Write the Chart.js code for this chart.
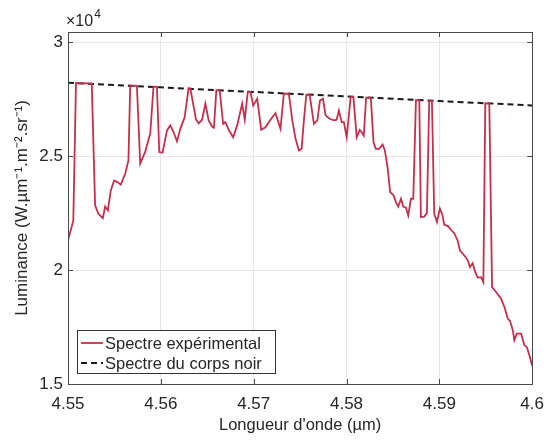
<!DOCTYPE html>
<html>
<head>
<meta charset="utf-8">
<script src="https://cdn.jsdelivr.net/npm/chart.js@4.4.1/dist/chart.umd.min.js"></script>
<style>
  html, body { margin: 0; padding: 0; background: #fff; }
  #wrap { width: 544px; height: 441px; }
</style>
</head>
<body>
<div id="wrap"><canvas id="chart" width="544" height="441"></canvas></div>
<script>
// Spectre expérimental (longueur d'onde en µm, luminance)
const wavelength = [
  4.55000, 4.55057, 4.55086, 4.55256, 4.55292, 4.55327, 4.55375, 4.55400, 4.55429, 4.55461,
  4.55497, 4.55532, 4.55569, 4.55616, 4.55651, 4.55670, 4.55742, 4.55778, 4.55832, 4.55886,
  4.55921, 4.55958, 4.55983, 4.56019, 4.56066, 4.56102, 4.56138, 4.56174, 4.56210, 4.56256,
  4.56299, 4.56318, 4.56379, 4.56408, 4.56444, 4.56480, 4.56515, 4.56552, 4.56572, 4.56598,
  4.56634, 4.56671, 4.56695, 4.56731, 4.56779, 4.56822, 4.56876, 4.56904, 4.56937, 4.56965,
  4.56995, 4.57038, 4.57081, 4.57127, 4.57181, 4.57235, 4.57289, 4.57325, 4.57379, 4.57416,
  4.57451, 4.57487, 4.57516, 4.57541, 4.57567, 4.57603, 4.57649, 4.57686, 4.57714, 4.57746,
  4.57775, 4.57818, 4.57865, 4.57894, 4.57918, 4.57948, 4.57972, 4.58002, 4.58045, 4.58074,
  4.58110, 4.58143, 4.58164, 4.58186, 4.58211, 4.58262, 4.58291, 4.58316, 4.58352, 4.58389,
  4.58413, 4.58442, 4.58470, 4.58507, 4.58532, 4.58557, 4.58587, 4.58611, 4.58640, 4.58665,
  4.58694, 4.58719, 4.58748, 4.58784, 4.58801, 4.58837, 4.58866, 4.58891, 4.58920, 4.58945,
  4.58974, 4.59006, 4.59035, 4.59052, 4.59096, 4.59125, 4.59160, 4.59197, 4.59222, 4.59269,
  4.59306, 4.59330, 4.59359, 4.59387, 4.59413, 4.59449, 4.59474, 4.59495, 4.59538, 4.59568,
  4.59611, 4.59665, 4.59701, 4.59737, 4.59762, 4.59791, 4.59808, 4.59834, 4.59881, 4.59916,
  4.59942, 4.59970, 4.60000
];
const luminance = [
  21300, 22170, 28210, 28180, 22840, 22470, 22280, 22790, 22620, 23500,
  23930, 23860, 23750, 24230, 24810, 28100, 28090, 24670, 25200, 26000,
  28050, 28040, 25180, 25150, 26130, 26350, 26050, 25650, 26200, 26700,
  27980, 27970, 26600, 26440, 26600, 27310, 26570, 26300, 26250, 27900,
  27890, 26420, 26490, 26160, 25830, 26350, 27300, 26600, 27830, 27820,
  27220, 27520, 26160, 26270, 26600, 26890, 26200, 27750, 27740, 26570,
  25760, 25250, 25320, 26570, 27700, 27690, 26420, 26570, 27440, 27520,
  26790, 26640, 26570, 26600, 27000, 26490, 26490, 25830, 27610, 27600,
  25830, 26150, 26050, 25900, 27570, 27560, 25610, 25320, 25320, 25510,
  25250, 24520, 23420, 23280, 22980, 22790, 23130, 22790, 22740, 22400,
  23130, 23130, 27460, 27450, 22330, 22350, 22500, 27430, 27420, 22470,
  22110, 22700, 22400, 22000, 21920, 21770, 21620, 21300, 20860, 20640,
  20430, 20130, 20300, 19910, 19670, 19690, 19470, 27320, 27310, 19250,
  19040, 18740, 18380, 17870, 17760, 17360, 16920, 17210, 17210, 16700,
  16620, 16260, 15800
];

// Spectre du corps noir
const bbWavelength = [4.55, 4.56, 4.57, 4.58, 4.59, 4.60];
const bbLuminance = [28220, 28020, 27820, 27620, 27420, 27225];

const xTicks = [4.55, 4.56, 4.57, 4.58, 4.59, 4.60];
const xTickLabels = ['4.55', '4.56', '4.57', '4.58', '4.59', '4.6'];
const yTicks = [15000, 20000, 25000, 30000];
const yTickLabels = ['1.5', '2', '2.5', '3'];

const FONT = "'Liberation Sans', Arial, Helvetica, sans-serif";
const TEXT = '#262626';
const AXIS = '#4a4a4a';
const RED = '#c4304c';

// box, inner ticks, exponent label and legend (MATLAB look)
const matlabFrame = {
    id: 'matlabFrame',
    afterDraw(chart) {
        const ctx = chart.ctx;
        const a = chart.chartArea;
        const xs = chart.scales.x, ys = chart.scales.y;
        ctx.save();
        ctx.strokeStyle = AXIS;
        ctx.lineWidth = 1;
        ctx.strokeRect(Math.round(a.left) + 0.5, Math.round(a.top) + 0.5,
            Math.round(a.right - a.left), Math.round(a.bottom - a.top));
        ctx.beginPath();
        xTicks.forEach(v => {
            const px = Math.round(xs.getPixelForValue(v)) + 0.5;
            ctx.moveTo(px, a.bottom); ctx.lineTo(px, a.bottom - 5);
            ctx.moveTo(px, a.top); ctx.lineTo(px, a.top + 5);
        });
        yTicks.forEach(v => {
            const py = Math.round(ys.getPixelForValue(v)) + 0.5;
            ctx.moveTo(a.left, py); ctx.lineTo(a.left + 5, py);
            ctx.moveTo(a.right, py); ctx.lineTo(a.right - 5, py);
        });
        ctx.stroke();

        // x10^4
        ctx.fillStyle = TEXT;
        ctx.textBaseline = 'alphabetic';
        ctx.textAlign = 'left';
        ctx.font = '16px ' + FONT;
        ctx.fillText('\u00d710', a.left - 2, a.top - 6);
        const w = ctx.measureText('\u00d710').width;
        ctx.font = '12px ' + FONT;
        ctx.fillText('4', a.left - 2 + w + 1, a.top - 14);

        // legend
        const lx = 77, ly = 330, lw = 198, lh = 43;
        ctx.fillStyle = '#fff';
        ctx.fillRect(lx, ly, lw, lh);
        ctx.strokeStyle = '#333';
        ctx.strokeRect(lx + 0.5, ly + 0.5, lw, lh);
        const rows = chart.data.datasets;
        rows.forEach((ds, i) => {
            const cy = ly + 13 + i * 20;
            ctx.beginPath();
            ctx.strokeStyle = ds.borderColor;
            ctx.lineWidth = ds.borderWidth;
            ctx.setLineDash(ds.borderDash || []);
            ctx.moveTo(lx + 4, cy); ctx.lineTo(lx + 26, cy);
            ctx.stroke();
            ctx.setLineDash([]);
            ctx.fillStyle = TEXT;
            ctx.font = '16.5px ' + FONT;
            ctx.textBaseline = 'middle';
            ctx.fillText(ds.label, lx + 28, cy + 1);
        });
        ctx.restore();
    }
};

new Chart(document.getElementById('chart'), {
    type: 'line',
    data: {
        datasets: [
            {
                label: 'Spectre expérimental',
                data: wavelength.map((x, i) => ({ x: x, y: luminance[i] })),
                borderColor: RED,
                borderWidth: 1.8,
                pointRadius: 0,
                tension: 0,
                fill: false
            },
            {
                label: 'Spectre du corps noir',
                data: bbWavelength.map((x, i) => ({ x: x, y: bbLuminance[i] })),
                borderColor: '#1a1a1a',
                borderWidth: 2,
                borderDash: [6, 4],
                pointRadius: 0,
                tension: 0,
                fill: false
            }
        ]
    },
    options: {
        responsive: false,
        animation: false,
        events: [],
        layout: { padding: { left: 0, right: 3, top: 32, bottom: 0 } },
        scales: {
            x: {
                type: 'linear',
                min: 4.55,
                max: 4.6,
                afterBuildTicks: s => { s.ticks = xTicks.map(v => ({ value: v })); },
                afterFit: s => { s.height = 57; },
                ticks: {
                    padding: 0,
                    maxRotation: 0,
                    autoSkip: false,
                    color: TEXT,
                    font: { family: FONT, size: 17 },
                    callback: (v) => {
                        const i = xTicks.findIndex(t => Math.abs(t - v) < 1e-9);
                        return i >= 0 ? xTickLabels[i] : '';
                    }
                },
                grid: { color: '#e6e6e6', drawTicks: true, tickLength: 10, tickColor: 'rgba(0,0,0,0)' },
                border: { display: false },
                title: {
                    display: true,
                    text: "Longueur d'onde (µm)",
                    color: TEXT,
                    font: { family: FONT, size: 16.5 },
                    padding: { top: 0, bottom: 6 }
                }
            },
            y: {
                min: 15000,
                max: 30450,
                afterBuildTicks: s => { s.ticks = yTicks.map(v => ({ value: v })); },
                afterFit: s => { s.width = 68; },
                ticks: {
                    padding: 5,
                    color: TEXT,
                    font: { family: FONT, size: 17 },
                    callback: (v) => {
                        const i = yTicks.indexOf(v);
                        return i >= 0 ? yTickLabels[i] : '';
                    }
                },
                grid: { color: '#e6e6e6', drawTicks: false },
                border: { display: false },
                title: {
                    display: true,
                    text: 'Luminance (W.µm\u207b\u00b9.m\u207b\u00b2.sr\u207b\u00b9)',
                    color: TEXT,
                    font: { family: FONT, size: 17 },
                    padding: { top: 12, bottom: 0 }
                }
            }
        },
        plugins: {
            legend: { display: false },
            tooltip: { enabled: false }
        }
    },
    plugins: [matlabFrame]
});
</script>
</body>
</html>
